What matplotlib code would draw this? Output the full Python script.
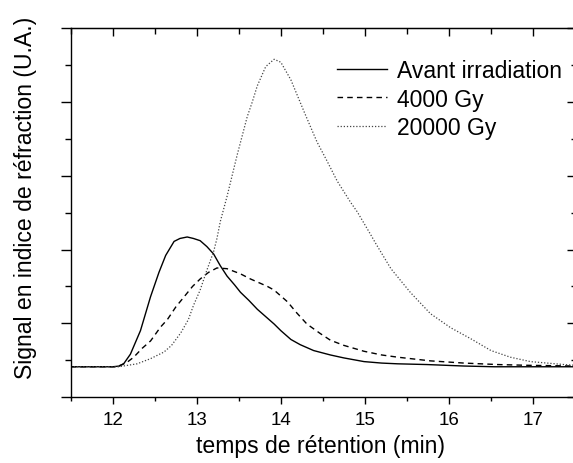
import matplotlib
matplotlib.use("Agg")
import matplotlib.pyplot as plt
from matplotlib.ticker import MultipleLocator

# data
labels = ["Avant irradiation", "4000 Gy", "20000 Gy"]

t_avant = [11.5, 12.0, 12.08, 12.13, 12.21, 12.33, 12.45, 12.55, 12.63, 12.73, 12.80, 12.886,
           12.96, 13.04, 13.12, 13.20, 13.28, 13.36, 13.45, 13.52, 13.62, 13.72, 13.82, 13.92,
           14.0, 14.12, 14.23, 14.39, 14.59, 14.75, 14.99, 15.2, 15.39, 15.74, 16.18, 16.54,
           17.0, 17.5]
s_avant = [0.41, 0.41, 0.42, 0.45, 0.58, 0.90, 1.36, 1.69, 1.92, 2.11, 2.15, 2.17,
           2.15, 2.12, 2.04, 1.94, 1.78, 1.64, 1.52, 1.42, 1.31, 1.19, 1.09, 0.99,
           0.90, 0.78, 0.71, 0.63, 0.57, 0.53, 0.48, 0.46, 0.45, 0.44, 0.42, 0.41,
           0.41, 0.41]

t_4000 = [11.5, 12.05, 12.17, 12.25, 12.35, 12.45, 12.57, 12.65, 12.75, 12.85, 12.95, 13.04,
          13.14, 13.24, 13.36, 13.52, 13.64, 13.76, 13.84, 13.92, 14.0, 14.08, 14.19, 14.31,
          14.47, 14.59, 14.75, 14.99, 15.2, 15.39, 15.78, 16.18, 16.58, 16.93, 17.5]
s_4000 = [0.41, 0.41, 0.47, 0.54, 0.66, 0.76, 0.95, 1.05, 1.22, 1.36, 1.50, 1.60,
          1.69, 1.75, 1.74, 1.67, 1.60, 1.54, 1.50, 1.45, 1.37, 1.29, 1.14, 0.99,
          0.86, 0.77, 0.70, 0.62, 0.57, 0.54, 0.49, 0.46, 0.44, 0.43, 0.42]

t_20000 = [11.5, 12.07, 12.29, 12.45, 12.61, 12.70, 12.81, 12.90, 12.96, 13.04, 13.12, 13.20,
           13.24, 13.28, 13.36, 13.48, 13.60, 13.66, 13.72, 13.82, 13.92, 14.00, 14.12, 14.28,
           14.43, 14.55, 14.67, 14.83, 14.91, 15.07, 15.13, 15.31, 15.54, 15.78, 16.02, 16.26,
           16.50, 16.73, 16.97, 17.37, 17.5]
s_20000 = [0.41, 0.41, 0.45, 0.52, 0.61, 0.70, 0.87, 1.05, 1.24, 1.45, 1.72, 1.97,
           2.15, 2.38, 2.72, 3.28, 3.80, 4.00, 4.22, 4.48, 4.58, 4.54, 4.30, 3.86,
           3.46, 3.20, 2.93, 2.64, 2.51, 2.20, 2.08, 1.74, 1.42, 1.13, 0.94, 0.79,
           0.63, 0.54, 0.48, 0.44, 0.43]

plt.rcParams['font.family'] = ['Liberation Sans', 'DejaVu Sans']

fig = plt.figure(figsize=(5.73, 4.64), dpi=100)
W, H = 573, 464
ax = fig.add_axes([70.7 / W, (H - 398) / H, (575 - 70.7) / W, (398 - 29.3) / H])

ax.plot(t_avant, s_avant, color="black", lw=1.0, label=labels[0])
ax.plot(t_4000, s_4000, color="black", lw=1.0, linestyle=(0, (4, 3)), label=labels[1])
ax.plot(t_20000, s_20000, color="#444444", lw=0.9, linestyle=(0, (1, 1.5)), label=labels[2])

ax.set_xlim(11.5, 17.5)
ax.set_ylim(0, 5)
ax.xaxis.set_major_locator(MultipleLocator(1))
ax.xaxis.set_minor_locator(MultipleLocator(0.5))
ax.yaxis.set_major_locator(MultipleLocator(1))
ax.yaxis.set_minor_locator(MultipleLocator(0.5))
ax.set_yticklabels([])

ax.tick_params(axis="x", which="major", direction="out", length=5, width=1,
               labelsize=13.5, pad=5, top=False)
ax.tick_params(axis="x", which="minor", direction="out", length=3, width=1, top=False)
ax.tick_params(axis="y", which="major", direction="out", length=7, width=1, right=False)
ax.tick_params(axis="y", which="minor", direction="out", length=4, width=1, right=False)

# inward ticks on top and right
top = ax.secondary_xaxis("top")
top.xaxis.set_major_locator(MultipleLocator(1))
top.xaxis.set_minor_locator(MultipleLocator(0.5))
top.tick_params(which="major", direction="in", length=6, width=1, labeltop=False)
top.tick_params(which="minor", direction="in", length=4, width=1)
right = ax.secondary_yaxis("right")
right.yaxis.set_major_locator(MultipleLocator(1))
right.yaxis.set_minor_locator(MultipleLocator(0.5))
right.tick_params(which="major", direction="in", length=6, width=1, labelright=False)
right.tick_params(which="minor", direction="in", length=3, width=1)

for sp in ax.spines.values():
    sp.set_linewidth(1.0)

ax.set_xlabel("temps de rétention (min)", fontsize=16.6)
ax.set_ylabel("Signal en indice de réfraction (U.A.)", fontsize=16.6)
ax.xaxis.set_label_coords(0.496, -0.1)
ax.yaxis.set_label_coords(-0.0674, 0.544)

fig.legend(loc="upper left", bbox_to_anchor=(336.7 / W, 1 - 60 / H), frameon=False,
           fontsize=16.5, handlelength=2.18, handletextpad=0.44, labelspacing=0.24,
           borderpad=0, borderaxespad=0)

fig.savefig("out.png", dpi=100)
